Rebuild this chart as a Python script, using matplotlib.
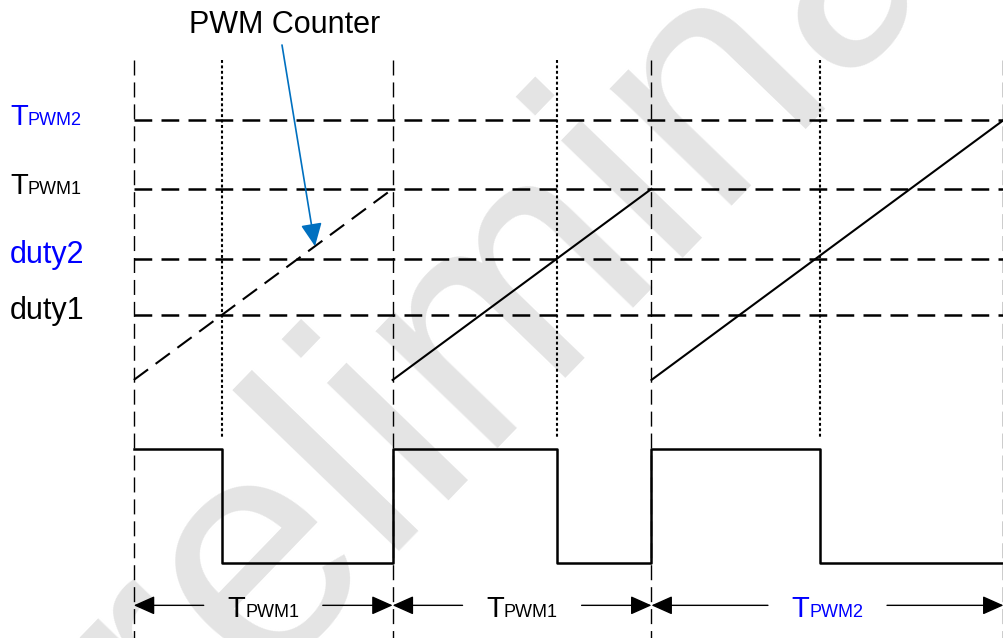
import numpy as np
import matplotlib.pyplot as plt

plt.rcParams['font.family'] = ['Liberation Sans', 'DejaVu Sans']

# counter levels, TPWM1 = 100 counts
level_names = ['PWM2', 'PWM1', 'duty2', 'duty1']
level_values = [136, 100, 63.4, 34]
level_colors = ['blue', 'black', 'blue', 'black']

# three PWM periods: period register, compare value
period_names = ['PWM1', 'PWM1', 'PWM2']
period_lengths = [100, 100, 136]
period_duty = [34, 63.4, 65]
period_colors = ['black', 'black', 'blue']

# vertical placement of the output waveform / arrows (in counter units)
pwm_high = -36
pwm_low = -96
arrow_level = -118
grid_top = 167.5
dotted_bottom = -31
counter_mark = 70  # where the "PWM Counter" arrow points

starts = np.cumsum([0] + period_lengths[:-1])
ends = starts + np.array(period_lengths)

fig = plt.figure(figsize=(10.04, 6.38), dpi=100)
ax = fig.add_axes([0, 0, 1, 1])
ax.set_xlim(-51.7, 336.2)
ax.set_ylim(-135.1, 198.9)
ax.axis('off')

# watermark
ax.text(0.525, 0.574, 'Preliminary', transform=ax.transAxes, fontsize=230,
        rotation=46, rotation_mode='anchor', ha='center', va='center',
        color='#e4e4e4', zorder=0)

y_bot = ax.get_ylim()[0]

# period boundaries
for s in list(starts) + [ends[-1]]:
    ax.plot([s, s], [grid_top, y_bot], color='black', lw=1.0,
            ls=(0, (10.8, 5)), zorder=2)

# level lines
for v in level_values:
    ax.plot([0, ends[-1]], [v, v], color='black', lw=1.8,
            ls=(0, (7.1, 3.7)), zorder=2)

# counter ramps
for i, (s, e, L) in enumerate(zip(starts, ends, period_lengths)):
    ls = (0, (8.5, 4.5)) if i == 0 else '-'
    ax.plot([s, e], [0, L], color='black', lw=1.5, ls=ls, zorder=3)

# compare match lines
for s, d in zip(starts, period_duty):
    ax.plot([s + d, s + d], [grid_top, dotted_bottom], color='black', lw=1.5,
            ls=(0, (1.4, 1.2)), zorder=2)

# PWM output
xs, ys = [], []
for s, d, e in zip(starts, period_duty, ends):
    xs += [s, s + d, s + d, e]
    ys += [pwm_high, pwm_high, pwm_low, pwm_low]
ax.plot(xs, ys, color='black', lw=1.8, zorder=3)

T_W = 0.611 * 21


def t_label(xy, sub, color, xycoords, dx, dy):
    ax.annotate('T', xy=xy, xycoords=xycoords, xytext=(dx, dy),
                textcoords='offset points', fontsize=21, color=color,
                ha='left', va='baseline', zorder=4, annotation_clip=False)
    ax.annotate(sub, xy=xy, xycoords=xycoords, xytext=(dx + T_W, dy),
                textcoords='offset points', fontsize=13, color=color,
                ha='left', va='baseline', zorder=4, annotation_clip=False)


# left labels
ytrans = ax.get_yaxis_transform()
for name, v, c in zip(level_names, level_values, level_colors):
    if name.startswith('PWM'):
        t_label((0.01, v), name, c, ytrans, 0, -3.5)
    else:
        ax.annotate(name, xy=(0.01, v), xycoords=ytrans, xytext=(0, -3),
                    textcoords='offset points', fontsize=22, color=c,
                    ha='left', va='baseline', zorder=4)

# period arrows
head = '-|>,head_length=13,head_width=5.8'
gap = 23
for s, e, name, c in zip(starts, ends, period_names, period_colors):
    mid = (s + e) / 2
    for tip, tail in [(s, mid - gap), (e, mid + gap)]:
        ax.annotate('', xy=(tip, arrow_level), xytext=(tail, arrow_level),
                    arrowprops=dict(arrowstyle=head, mutation_scale=1,
                                    color='black', lw=1.0,
                                    shrinkA=0, shrinkB=0),
                    zorder=4, annotation_clip=False)
    sub_w = 3.0 * 13
    t_label((mid, arrow_level), name, c, 'data', -(T_W + sub_w) / 2, -8.6)

# PWM Counter annotation
ax.text(285 / 1004, 1 - 33 / 638, 'PWM Counter', transform=ax.transAxes,
        fontsize=22, ha='center', va='baseline', zorder=4)
ax.annotate('', xy=(starts[0] + counter_mark, counter_mark),
            xytext=(282 / 1004, 1 - 45 / 638), textcoords='axes fraction',
            arrowprops=dict(arrowstyle='-|>,head_length=14,head_width=6.5',
                            mutation_scale=1, color='#0070C0', lw=1.2,
                            shrinkA=0, shrinkB=0), zorder=5)

fig.savefig('out.png', dpi=100)
